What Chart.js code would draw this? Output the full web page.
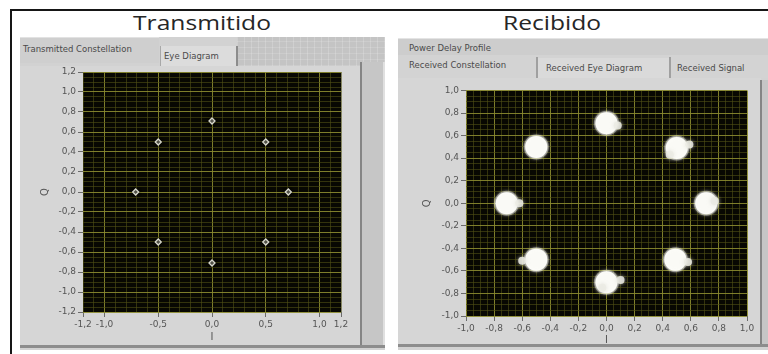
<!DOCTYPE html>
<html>
<head>
<meta charset="utf-8">
<script src="https://cdn.jsdelivr.net/npm/chart.js@4/dist/chart.umd.min.js"></script>
<style>
  html, body { margin: 0; padding: 0; background: #fff; }
  body { width: 768px; height: 354px; position: relative; overflow: hidden; font-family: "DejaVu Sans", sans-serif; }
  .abs { position: absolute; }
  .frame { background: #161616; }
  .title { font-family: "Open Sans", sans-serif; font-size: 20px; color: #262626; line-height: 24px;
           transform: translateX(-50%) scaleX(1.23); transform-origin: center; white-space: nowrap; }
  .panel { background: #d2d2d2; }
  .tabtext { font-size: 8.5px; color: #4a4a4a; white-space: nowrap; line-height: 10px; }
  .texture { background-color: #c4c4c4;
    background-image:
      repeating-linear-gradient(90deg, rgba(255,255,255,0.18) 0 1px, transparent 1px 7px),
      repeating-linear-gradient(0deg, rgba(255,255,255,0.14) 0 1px, transparent 1px 6px); }
  canvas { position: absolute; }
</style>
</head>
<body>
<!-- outer frame -->
<div class="abs frame" style="left:10px;top:9px;width:758px;height:2px;"></div>
<div class="abs frame" style="left:10px;top:9px;width:2px;height:345px;"></div>

<!-- headings -->
<div class="abs title" style="left:202px;top:11px;">Transmitido</div>
<div class="abs title" style="left:552px;top:11px;">Recibido</div>

<!-- transmitter tab control -->
<div class="abs panel" style="left:20px;top:37px;width:365px;height:313px;"></div>
<div class="abs texture" style="left:237px;top:37px;width:148px;height:29px;"></div>
<div class="abs" style="left:20px;top:37px;width:139px;height:25px;background:#cfcfcf;border-top:1px solid #e2e2e2;"></div>
<div class="abs tabtext" style="left:23px;top:44px;">Transmitted Constellation</div>
<div class="abs" style="left:160px;top:46px;width:75px;height:21px;background:#dcdcdc;border-left:1px solid #a8a8a8;border-right:2px solid #8c8c8c;"></div>
<div class="abs tabtext" style="left:164px;top:51px;">Eye Diagram</div>
<div class="abs" style="left:20px;top:66px;width:342px;height:280px;background:#d6d6d6;"></div>
<div class="abs" style="left:360px;top:62px;width:2px;height:284px;background:#858585;"></div>
<div class="abs" style="left:362px;top:62px;width:23px;height:284px;background:#c6c6c6;border-right:2px solid #e0e0e0;box-sizing:border-box;"></div>
<div class="abs" style="left:20px;top:345px;width:365px;height:3px;background:#8d8d8d;"></div>

<!-- receiver tab control -->
<div class="abs panel" style="left:398px;top:38px;width:370px;height:312px;"></div>
<div class="abs" style="left:398px;top:38px;width:370px;height:17px;background:#cdcdcd;border-top:1px solid #e4e4e4;"></div>
<div class="abs tabtext" style="left:409px;top:43px;">Power Delay Profile</div>
<div class="abs" style="left:398px;top:55px;width:370px;height:23px;background:#d3d3d3;"></div>
<div class="abs tabtext" style="left:409px;top:60px;">Received Constellation</div>
<div class="abs" style="left:536px;top:57px;width:2px;height:21px;background:#a0a0a0;"></div>
<div class="abs" style="left:538px;top:58px;width:131px;height:20px;background:#dadada;"></div>
<div class="abs tabtext" style="left:546px;top:63px;">Received Eye Diagram</div>
<div class="abs" style="left:669px;top:57px;width:2px;height:21px;background:#a0a0a0;"></div>
<div class="abs tabtext" style="left:677px;top:63px;">Received Signal</div>
<div class="abs" style="left:398px;top:78px;width:363px;height:266px;background:#d6d6d6;"></div>
<div class="abs" style="left:760px;top:80px;width:2px;height:264px;background:#858585;"></div>
<div class="abs" style="left:762px;top:80px;width:6px;height:264px;background:#c6c6c6;"></div>
<div class="abs" style="left:398px;top:344px;width:370px;height:3px;background:#8d8d8d;"></div>

<canvas id="txChart" width="342" height="288" style="left:20px;top:60px;"></canvas>
<canvas id="rxChart" width="364" height="270" style="left:398px;top:78px;"></canvas>

<script>
// Transmitted 8-PSK constellation points
const txI = [0.71, 0.50, 0.00, -0.50, -0.71, -0.50, 0.00, 0.50];
const txQ = [0.00, 0.50, 0.71, 0.50, 0.00, -0.50, -0.71, -0.50];

// Received symbol clusters (cluster centres)
const rxI = [0.71, 0.50, 0.00, -0.50, -0.71, -0.50, 0.00, 0.49];
const rxQ = [0.00, 0.49, 0.71, 0.50, 0.00, -0.50, -0.70, -0.50];

// Scattered noise samples trailing off the clusters
const rxStrayI = [0.08, 0.59, -0.62, -0.60, 0.58, 0.10, 0.77, -0.03, 0.45];
const rxStrayQ = [0.69, 0.52, 0.00, -0.51, -0.52, -0.68, 0.02, -0.75, 0.43];

// Axis tick labels
const txTicksX = [-1.2, -1.0, -0.5, 0.0, 0.5, 1.0, 1.2];
const txTicksY = [-1.2, -1.0, -0.8, -0.6, -0.4, -0.2, 0.0, 0.2, 0.4, 0.6, 0.8, 1.0, 1.2];
const txMajorGridX = [-1.0, -0.5, 0.0, 0.5, 1.0];
const rxTicksX = [-1.0, -0.8, -0.6, -0.4, -0.2, 0.0, 0.2, 0.4, 0.6, 0.8, 1.0];
const rxTicksY = [-1.0, -0.8, -0.6, -0.4, -0.2, 0.0, 0.2, 0.4, 0.6, 0.8, 1.0];

const PLOT_BG = '#080802';
const GRID_MAJOR = 'rgba(140,140,48,0.9)';
const GRID_MINOR = 'rgba(80,80,22,0.6)';
const LABEL_COLOR = '#555555';

const near = (list, v) => list.some(t => Math.abs(t - v) < 1e-6);
const fmt = v => (Math.abs(v) < 1e-9 ? 0 : v).toFixed(1).replace('.', ',');

function pts(xs, ys) { return xs.map((x, i) => ({ x: x, y: ys[i] })); }

function makeAxis(opts) {
  const { min, max, minorStep, labels, major, title, size, vertical } = opts;
  return {
    type: 'linear',
    position: vertical ? 'left' : 'bottom',
    min: min, max: max,
    afterBuildTicks(scale) {
      const n = Math.round((max - min) / minorStep);
      const vals = [];
      for (let i = 0; i <= n; i++) vals.push(+(min + i * minorStep).toFixed(4));
      scale.ticks = vals.map(v => ({ value: v }));
    },
    afterFit(scale) {
      if (vertical) scale.width = size; else scale.height = size;
      scale.paddingLeft = scale.paddingRight = scale.paddingTop = scale.paddingBottom = 0;
    },
    border: { display: false },
    grid: {
      drawOnChartArea: true,
      drawTicks: true,
      tickLength: 5,
      lineWidth: 1,
      color: ctx => (ctx.tick && near(major, ctx.tick.value)) ? GRID_MAJOR : GRID_MINOR,
      tickColor: ctx => (ctx.tick && near(labels, ctx.tick.value)) ? '#6a6a6a' : 'rgba(0,0,0,0)'
    },
    ticks: {
      autoSkip: false, maxRotation: 0, minRotation: 0, padding: 2,
      color: LABEL_COLOR,
      font: { family: 'DejaVu Sans', size: 9 },
      callback: v => near(labels, v) ? fmt(v) : ''
    },
    title: {
      display: true, text: title, padding: 0, color: LABEL_COLOR,
      font: { family: 'DejaVu Sans', size: 10 }
    }
  };
}

// Dark plot background and soft glow around the samples
const plotBackground = {
  id: 'plotBackground',
  beforeDraw(chart) {
    const a = chart.chartArea, c = chart.ctx;
    c.save(); c.fillStyle = PLOT_BG; c.fillRect(a.left, a.top, a.right - a.left, a.bottom - a.top); c.restore();
  }
};
const glow = {
  id: 'glow',
  beforeDatasetDraw(chart, args) {
    const g = chart.data.datasets[args.index].glow;
    if (g) { chart.ctx.save(); chart.ctx.shadowColor = g.color; chart.ctx.shadowBlur = g.blur; }
  },
  afterDatasetDraw(chart, args) {
    if (chart.data.datasets[args.index].glow) chart.ctx.restore();
  }
};

const common = {
  responsive: false, animation: false, devicePixelRatio: 1, events: [],
  plugins: { legend: { display: false }, tooltip: { enabled: false } }
};

new Chart(document.getElementById('txChart'), {
  type: 'scatter',
  data: {
    datasets: [{
      data: pts(txI, txQ),
      pointStyle: 'rectRot', pointRadius: 3,
      backgroundColor: 'rgba(150,150,135,0.9)', borderColor: '#d8d8cc', borderWidth: 1.3,
      glow: { color: 'rgba(0,0,0,0.9)', blur: 3 }
    }]
  },
  options: Object.assign({}, common, {
    layout: { padding: { left: 19, top: 12, right: 21, bottom: 5 } },
    scales: {
      x: makeAxis({ min: -1.2, max: 1.2, minorStep: 0.1, labels: txTicksX, major: txMajorGridX, title: 'I', size: 31 }),
      y: makeAxis({ min: -1.2, max: 1.2, minorStep: 0.05, labels: txTicksY, major: txTicksY, title: 'Q', size: 44, vertical: true })
    }
  }),
  plugins: [plotBackground, glow]
});

new Chart(document.getElementById('rxChart'), {
  type: 'scatter',
  data: {
    datasets: [
      {
        data: pts(rxStrayI, rxStrayQ),
        pointStyle: 'circle', pointRadius: 4, borderWidth: 0,
        backgroundColor: 'rgba(235,235,228,0.85)',
        glow: { color: 'rgba(220,220,210,0.8)', blur: 4 }
      },
      {
        data: pts(rxI, rxQ),
        pointStyle: 'circle', pointRadius: 12.5, borderWidth: 0,
        backgroundColor: 'rgba(255,255,250,0.35)',
        glow: { color: 'rgba(230,230,220,0.8)', blur: 4 }
      },
      {
        data: pts(rxI, rxQ),
        pointStyle: 'circle', pointRadius: 11, borderWidth: 0,
        backgroundColor: '#ffffff',
        glow: { color: 'rgba(255,255,255,1)', blur: 3 }
      }
    ]
  },
  options: Object.assign({}, common, {
    layout: { padding: { left: 23, top: 9, right: 15, bottom: 2 } },
    scales: {
      x: makeAxis({ min: -1.0, max: 1.0, minorStep: 0.05, labels: rxTicksX, major: rxTicksX, title: 'I', size: 30 }),
      y: makeAxis({ min: -1.0, max: 1.0, minorStep: 0.05, labels: rxTicksY, major: rxTicksY, title: 'Q', size: 45, vertical: true })
    }
  }),
  plugins: [plotBackground, glow]
});
</script>
</body>
</html>
